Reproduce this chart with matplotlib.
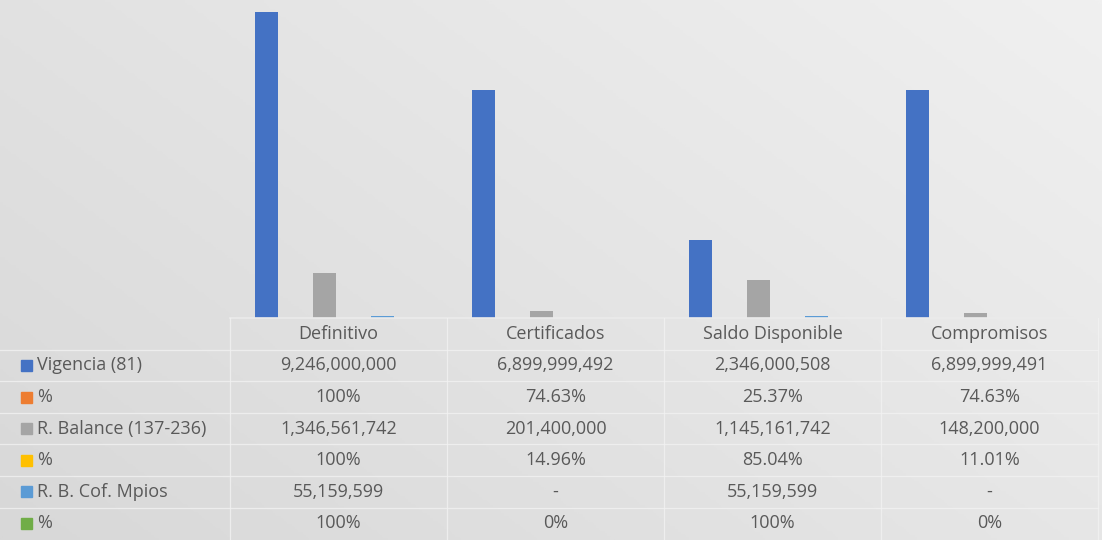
import numpy as np
import matplotlib
matplotlib.use("Agg")
from matplotlib import pyplot as plt
from matplotlib.transforms import blended_transform_factory
from matplotlib.patches import Rectangle

# data
categories = ["Definitivo", "Certificados", "Saldo Disponible", "Compromisos"]
series_names = ["Vigencia (81)", "%", "R. Balance (137-236)", "%", "R. B. Cof. Mpios", "%"]
vigencia = [9246000000, 6899999492, 2346000508, 6899999491]
pct_vigencia = [1.0, 0.7463, 0.2537, 0.7463]
balance = [1346561742, 201400000, 1145161742, 148200000]
pct_balance = [1.0, 0.1496, 0.8504, 0.1101]
cof_mpios = [55159599, 0, 55159599, 0]
pct_cof = [1.0, 0.0, 1.0, 0.0]

table_text = [
    ["9,246,000,000", "6,899,999,492", "2,346,000,508", "6,899,999,491"],
    ["100%", "74.63%", "25.37%", "74.63%"],
    ["1,346,561,742", "201,400,000", "1,145,161,742", "148,200,000"],
    ["100%", "14.96%", "85.04%", "11.01%"],
    ["55,159,599", "-", "55,159,599", "-"],
    ["100%", "0%", "100%", "0%"],
]
colors = ["#4472C4", "#ED7D31", "#A5A5A5", "#FFC000", "#5B9BD5", "#70AD47"]

W, H = 1102, 540
plt.rcParams['font.family'] = ['Open Sans', 'DejaVu Sans']
fig = plt.figure(figsize=(W / 100, H / 100), dpi=100)

# gradient background
bg = fig.add_axes([0, 0, 1, 1], zorder=-10)
yy, xx = np.mgrid[0:1:200j, 0:1:400j]
grad = 0.6 * xx + 0.4 * (1 - yy)
bg.imshow(grad, cmap=matplotlib.colors.LinearSegmentedColormap.from_list(
    "g", ["#d8d8d8", "#f0f0f0"]), aspect="auto", extent=[0, 1, 0, 1], origin="upper")
bg.set_xlim(0, 1)
bg.set_ylim(0, 1)
bg.axis("off")

base_px = 318
left_px, right_px = 230, 1098
ax = fig.add_axes([left_px / W, 1 - base_px / H, (right_px - left_px) / W, base_px / H])
ax.patch.set_alpha(0)

all_series = [vigencia, pct_vigencia, balance, pct_balance, cof_mpios, pct_cof]
x = np.arange(len(categories))
pitch = 29 / 217
width = 23 / 217
for k, vals in enumerate(all_series):
    ax.bar(x + (k - 2.5) * pitch, vals, width=width, color=colors[k], zorder=3)

ax.set_xlim(-0.5, len(categories) - 0.5)
ax.set_ylim(0, vigencia[0] * base_px / (base_px - 12))
ax.axis("off")

# data table
line_c = "#f2f2f2"
text_c = "#595959"
fs = 13
row_h = 31.6
row_tops = [base_px + i * row_h for i in range(8)]

def fy(px):
    return 1 - px / H

trans = blended_transform_factory(ax.transData, fig.transFigure)

# horizontal borders
fig.add_artist(plt.Line2D([left_px / W, right_px / W], [fy(base_px)] * 2,
                          color="#ebebeb", lw=1.2, transform=fig.transFigure))
for i in range(1, 7):
    fig.add_artist(plt.Line2D([0, right_px / W], [fy(row_tops[i])] * 2,
                              color=line_c, lw=0.9, alpha=0.8, transform=fig.transFigure))
# vertical borders
for j in range(len(categories) + 1):
    xb = j - 0.5
    fig.add_artist(plt.Line2D([xb, xb], [fy(base_px), fy(H)], color=line_c,
                              lw=0.9, alpha=0.8, transform=trans))

# header
for j, cat in enumerate(categories):
    fig.text(j, fy(base_px + row_h / 2), cat, transform=trans, ha="center",
             va="center", fontsize=fs, color=text_c)

# rows
for i, name in enumerate(series_names):
    yc = fy(base_px + row_h * (i + 1.5))
    fig.add_artist(Rectangle((21 / W, yc - 5.5 / H), 11 / W, 11 / H,
                             color=colors[i], transform=fig.transFigure))
    fig.text(37 / W, yc, name, ha="left", va="center", fontsize=fs, color=text_c)
    for j in range(len(categories)):
        fig.text(j, yc, table_text[i][j], transform=trans, ha="center",
                 va="center", fontsize=fs, color=text_c)

fig.savefig("out.png", dpi=100)
